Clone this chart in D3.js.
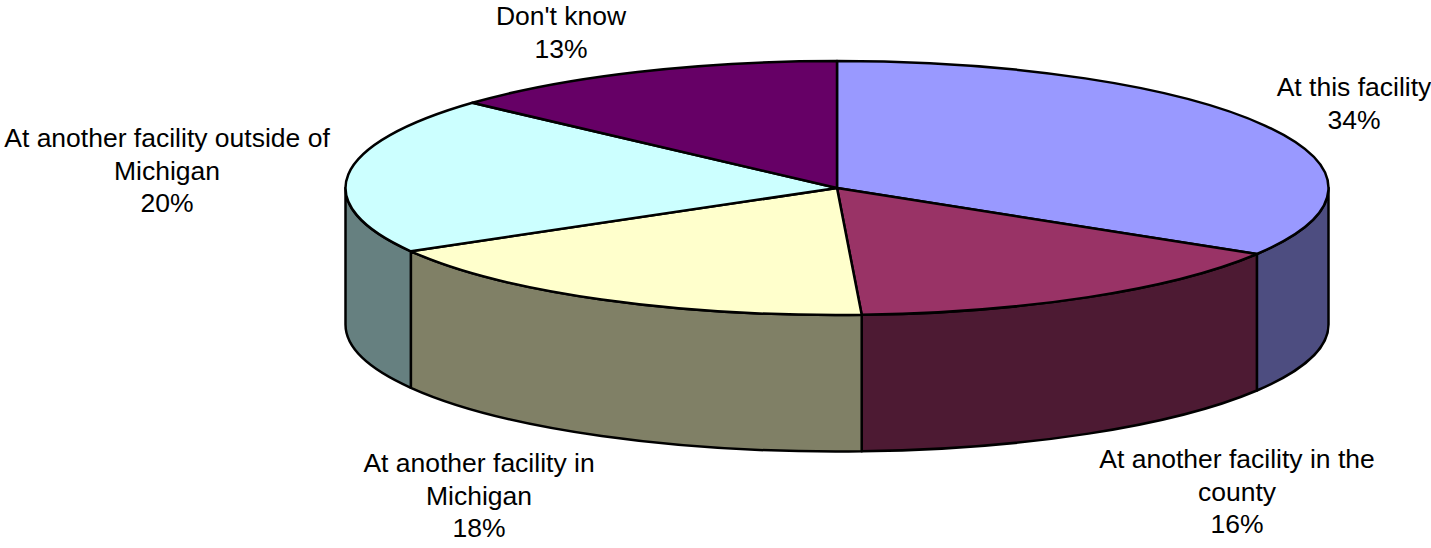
<!DOCTYPE html>
<html>
<head>
<meta charset="utf-8">
<script src="https://cdn.jsdelivr.net/npm/d3@7/dist/d3.min.js"></script>
<style>
html,body{margin:0;padding:0;background:#fff;overflow:hidden}
text{font-family:"Liberation Sans",Arial,sans-serif;font-size:26.5px;fill:#000;text-anchor:middle}
</style>
</head>
<body>
<svg id="c" width="1431" height="548"></svg>
<script>
const categories = ["At this facility","At another facility in the county","At another facility in Michigan","At another facility outside of Michigan","Don't know"];
const values = [33.7,15.5,17.5,20.0,13.3];
const percentLabels = ["34%","16%","18%","20%","13%"];
const topColors = ["#9999FF","#993366","#FFFFCC","#CCFFFF","#660066"];
const sideColors = ["#4D4D80","#4D1A33","#808066","#668080","#330033"];
const labelLines = [["At this facility"],["At another facility in the","county"],["At another facility in","Michigan"],["At another facility outside of","Michigan"],["Don't know"]];
const labelCentres = [[1354,87],[1237,459],[479,463],[167,138],[561,16]];

const svg = d3.select("#c");
const x = d3.scaleLinear().domain([-1,1]).range([345.5,1328.5]);
const y = d3.scaleLinear().domain([-1,1]).range([61,315]);
const depth = 136.5;
const rx = (x(1)-x(-1))/2, ry = (y(1)-y(-1))/2;
const px = a => x(Math.sin(a)), py = a => y(-Math.cos(a));

const arcs = d3.pie().sort(null)(values);

function ellipticArc(a0,a1,dy,reverse){
  const large = Math.abs(a1-a0) > Math.PI ? 1 : 0;
  const e = reverse ? a0 : a1;
  return `A${rx},${ry} 0 ${large} ${reverse?0:1} ${px(e)},${py(e)+dy}`;
}

const walls = arcs.map((d,i)=>({i,a0:Math.max(d.startAngle,Math.PI/2),a1:Math.min(d.endAngle,Math.PI*1.5)}))
  .filter(d=>d.a1>d.a0);

svg.append("g").selectAll("path").data(walls).join("path")
  .attr("d",d=>`M${px(d.a0)},${py(d.a0)}${ellipticArc(d.a0,d.a1,0,false)}L${px(d.a1)},${py(d.a1)+depth}${ellipticArc(d.a0,d.a1,depth,true)}Z`)
  .attr("fill",d=>sideColors[d.i]).attr("stroke","#000").attr("stroke-width",2.5).attr("stroke-linejoin","round");

svg.append("g").selectAll("path").data(arcs).join("path")
  .attr("d",d=>`M${x(0)},${y(0)}L${px(d.startAngle)},${py(d.startAngle)}${ellipticArc(d.startAngle,d.endAngle,0,false)}Z`)
  .attr("fill",(d,i)=>topColors[i]).attr("stroke","#000").attr("stroke-width",2.5).attr("stroke-linejoin","round");

const labels = svg.append("g").selectAll("text").data(categories).join("text")
  .attr("transform",(d,i)=>`translate(${labelCentres[i][0]},${labelCentres[i][1]})`);
labels.each(function(d,i){
  const t = d3.select(this);
  labelLines[i].concat(percentLabels[i]).forEach((l,j)=>{
    t.append("tspan").attr("x",0).attr("y",j*32.5+9).text(l);
  });
});
</script>
</body>
</html>
